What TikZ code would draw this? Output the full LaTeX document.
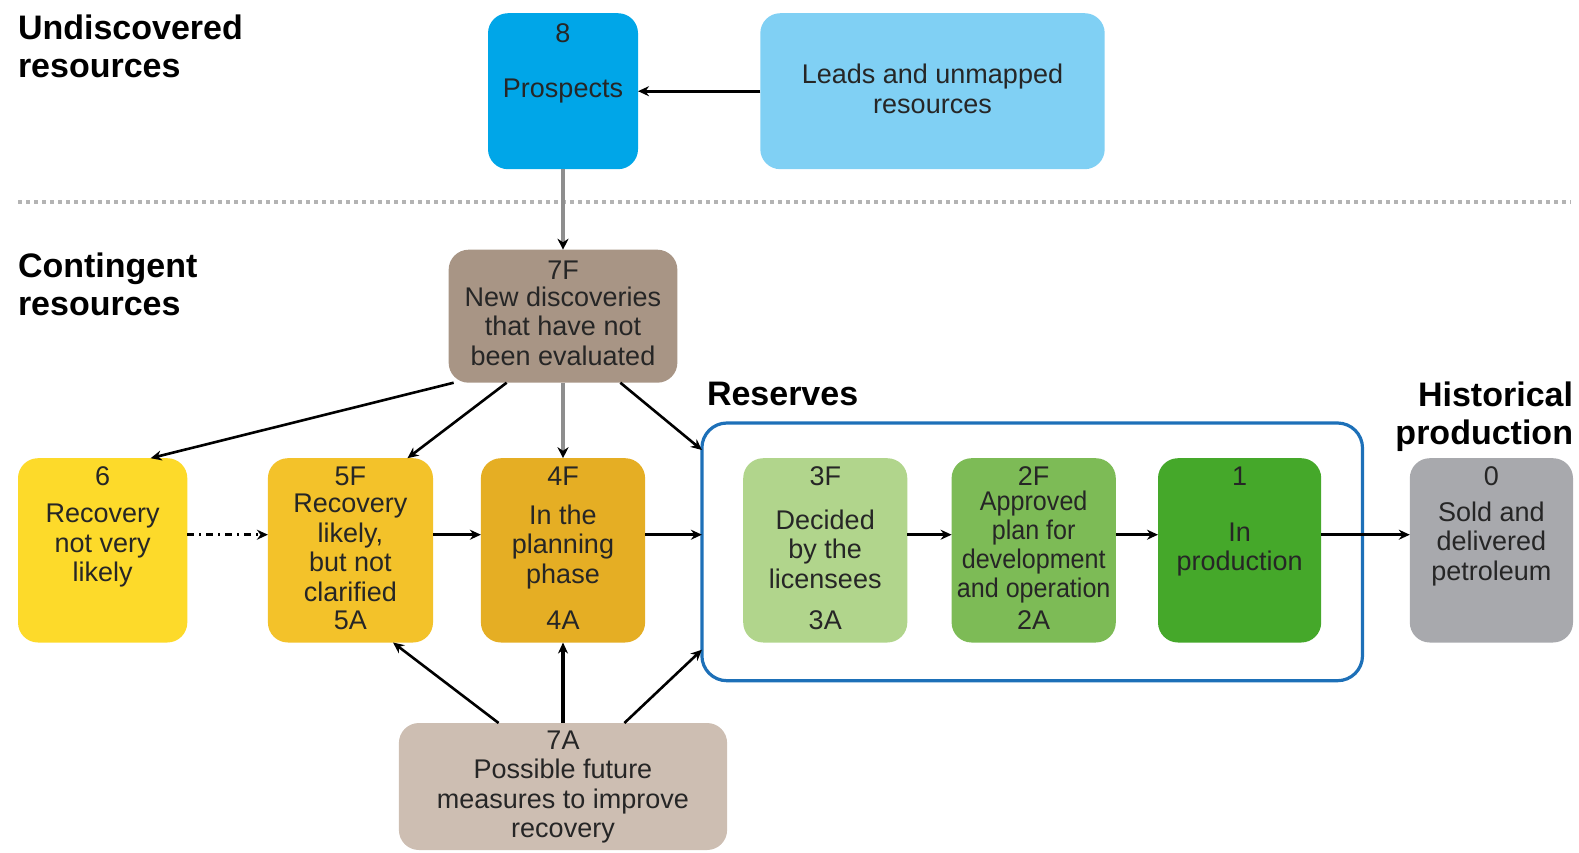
\documentclass[tikz,border=0pt]{standalone}
\usepackage{fontspec}
\setmainfont{Liberation Sans}
\newfontfamily\narrowf[FakeStretch=0.93]{Liberation Sans}
\usetikzlibrary{arrows.meta}
\definecolor{cProsp}{HTML}{00A6E8}
\definecolor{cLeads}{HTML}{80D0F4}
\definecolor{cSevF}{HTML}{A89585}
\definecolor{cSevA}{HTML}{CDBEB2}
\definecolor{cSix}{HTML}{FDDA2A}
\definecolor{cFive}{HTML}{F3C22A}
\definecolor{cFour}{HTML}{E5AE24}
\definecolor{cThree}{HTML}{B1D58C}
\definecolor{cTwo}{HTML}{7DBB56}
\definecolor{cOne}{HTML}{45A82A}
\definecolor{cZero}{HTML}{A8A9AD}
\definecolor{cFrame}{HTML}{1D70B8}
\definecolor{cGrayArr}{HTML}{8E8E8E}
\definecolor{cDots}{HTML}{B4B4B4}
\definecolor{cText}{HTML}{262626}
\begin{document}
\begin{tikzpicture}[x=1pt,y=-1pt,
  box/.style={rounded corners=20pt, inner sep=0pt, outer sep=0pt, draw=none},
  txt/.style={font=\fontsize{27}{29.5}\selectfont, align=center, text=cText, inner sep=0pt, outer sep=0pt},
  head/.style={font=\bfseries\fontsize{34}{38}\selectfont, inner sep=0pt, outer sep=0pt},
  arr/.style={line width=2.6pt, -{Stealth[length=11pt,width=10pt]}},
  grayarr/.style={line width=4.5pt, draw=cGrayArr, -{Stealth[length=11pt,width=11pt,color=black]}},
]
\useasboundingbox (0,0) rectangle (1579,852);

% headings
\node[head, anchor=north west, align=left] (hUnd) at (18,15) {Undiscovered\\resources};
\node[head, anchor=north west, align=left] (hCon) at (18,253) {Contingent\\resources};
\node[head, anchor=north west] (hRes) at (707,382) {Reserves};
\node[head, anchor=north east, align=right] (hHis) at (1573,382) {Historical\\production};

% dotted separator
\draw[cDots, line width=4pt, dash pattern=on 4pt off 4pt] (18,202.4) -- (1571,202.4);

% top row
\node[box, fill=cProsp, minimum width=150pt, minimum height=156pt] (pr) at (563,91.2) {};
\node[txt] (prN) at (563,33.2) {8};
\node[txt] (prT) at (563,91) {Prospects};
\node[box, fill=cLeads, minimum width=344.4pt, minimum height=156pt] (ld) at (932.5,91.2) {};
\node[txt] (ldT) at (932.5,89) {Leads and unmapped\\resources};

% 7F
\node[box, fill=cSevF, minimum width=228.7pt, minimum height=133pt] (f7) at (563,316.2) {};
\node[txt] (f7N) at (563,270) {7F};
\node[txt] (f7T) at (563,326) {New discoveries\\that have not\\been evaluated};

% reserves frame
\node[draw=cFrame, line width=3.2pt, rounded corners=25pt, inner sep=0pt, outer sep=0pt,
      minimum width=660.6pt, minimum height=257.7pt] (res) at (1032.2,551.85) {};

% row boxes
\node[box, fill=cSix, minimum width=169.3pt, minimum height=184.3pt] (s6) at (102.65,550.35) {};
\node[txt] (s6N) at (102.65,476.3) {6};
\node[txt] (s6T) at (102.65,546) {Recovery\\not very\\likely};

\node[box, fill=cFive, minimum width=165.1pt, minimum height=184.3pt] (s5) at (350.45,550.35) {};
\node[txt] (s5N) at (350.45,476.3) {5F};
\node[txt] (s5T) at (350.45,548) {Recovery\\likely,\\but not\\clarified};
\node[txt] (s5A) at (350.45,620) {5A};

\node[box, fill=cFour, minimum width=164.2pt, minimum height=184.3pt] (s4) at (563,550.35) {};
\node[txt] (s4N) at (563,476.3) {4F};
\node[txt] (s4T) at (563,547) {In the\\planning\\phase};
\node[txt] (s4A) at (563,620) {4A};

\node[box, fill=cThree, minimum width=164.1pt, minimum height=184.3pt] (s3) at (825.25,550.35) {};
\node[txt] (s3N) at (825.25,476.3) {3F};
\node[txt] (s3T) at (825.25,549) {Decided\\by the\\licensees};
\node[txt] (s3A) at (825.25,620) {3A};

\node[box, fill=cTwo, minimum width=164.2pt, minimum height=184.3pt] (s2) at (1033.7,550.35) {};
\node[txt] (s2N) at (1033.7,476.3) {2F};
\node[txt, font=\narrowf\fontsize{27}{29}\selectfont] (s2T) at (1033.7,547) {Approved\\plan for\\development\\and operation};
\node[txt] (s2A) at (1033.7,620) {2A};

\node[box, fill=cOne, minimum width=163.2pt, minimum height=184.3pt] (s1) at (1239.6,550.35) {};
\node[txt] (s1N) at (1239.6,476.3) {1};
\node[txt] (s1T) at (1239.6,549.5) {In\\production};

\node[box, fill=cZero, minimum width=163.2pt, minimum height=184.3pt] (s0) at (1491.4,550.35) {};
\node[txt] (s0N) at (1491.4,476.3) {0};
\node[txt] (s0T) at (1491.4,544) {Sold and\\delivered\\petroleum};

% 7A
\node[box, fill=cSevA, minimum width=328.2pt, minimum height=127pt] (a7) at (563,786.5) {};
\node[txt] (a7N) at (563,740) {7A};
\node[txt] (a7T) at (563,801.5) {Possible future\\measures to improve\\recovery};

% connectors
\draw[arr] (ld.west) -- (pr.east);
\draw[grayarr] (pr.south) -- (f7.north);
\draw[arr] ([xshift=5pt]f7.south west) -- ([xshift=48pt]s6.north);
\draw[arr] ([xshift=58pt]f7.south west) -- ([xshift=57pt]s5.north);
\draw[grayarr] (f7.south) -- (s4.north);
\draw[arr] ([xshift=-57pt]f7.south east) -- ([yshift=-27pt]res.north west);

\draw[arr, dash pattern=on 7pt off 5pt on 2pt off 5pt] ([yshift=15.65pt]s6.east) -- ([yshift=15.65pt]s5.west);
\draw[arr] ([yshift=15.65pt]s5.east) -- ([yshift=15.65pt]s4.west);
\draw[arr] ([yshift=15.65pt]s4.east) -- ([yshift=17.15pt]res.west);
\draw[arr] ([yshift=15.65pt]s3.east) -- ([yshift=15.65pt]s2.west);
\draw[arr] ([yshift=15.65pt]s2.east) -- ([yshift=15.65pt]s1.west);
\draw[arr] ([yshift=15.65pt]s1.east) -- ([yshift=15.65pt]s0.west);

\draw[arr] ([xshift=99.7pt]a7.north west) -- ([xshift=-40pt]s5.south east);
\draw[arr, line width=3.2pt] (a7.north) -- (s4.south);
\draw[arr] ([xshift=-102.7pt]a7.north east) -- ([yshift=31pt]res.south west);
\end{tikzpicture}
\end{document}
